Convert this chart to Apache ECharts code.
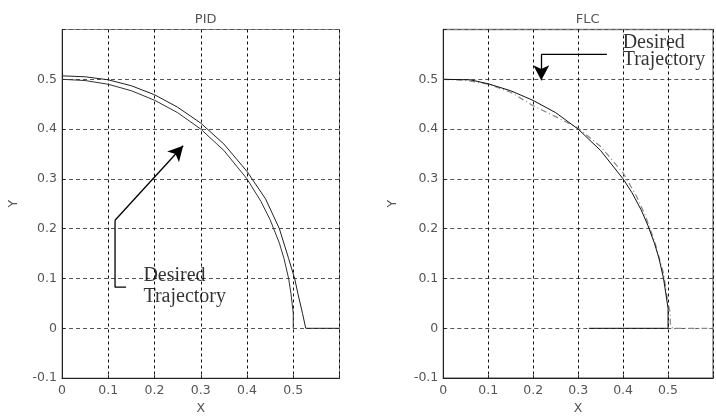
<!DOCTYPE html>
<html>
<head>
<meta charset="utf-8">
<script src="https://cdn.jsdelivr.net/npm/echarts@6/dist/echarts.min.js"></script>
<style>
html,body{margin:0;padding:0;background:#fff;}
#c{width:716px;height:420px;}
</style>
</head>
<body>
<div id="c"></div>
<script>
// ---- data ----
const titles = ['PID', 'FLC'];
const xTickLabels = ['0', '0.1', '0.2', '0.3', '0.4', '0.5', ''];
const yTickLabels = ['-0.1', '0', '0.1', '0.2', '0.3', '0.4', '0.5', ''];

// PID plot
const pidDesired = [[0,0.5],[0.05,0.4975],[0.1,0.49],[0.15,0.477],[0.2,0.458],[0.25,0.433],[0.3,0.4],[0.35,0.357],[0.4,0.3],[0.43,0.255],[0.45,0.218],[0.47,0.171],[0.48,0.14],[0.49,0.1],[0.495,0.07],[0.5,0.03],[0.5,0]];
const pidActual = [[0,0.507],[0.05,0.505],[0.1,0.499],[0.15,0.487],[0.2,0.469],[0.25,0.444],[0.3,0.412],[0.35,0.37],[0.4,0.315],[0.44,0.26],[0.47,0.2],[0.49,0.14],[0.503,0.1],[0.51,0.07],[0.52,0.03],[0.527,0],[0.6,0]];
const pidNotePath = [[0.1385,0.0825],[0.1147,0.0825],[0.1147,0.217]];
const pidNoteArrow = [[0.1147,0.217],[0.262,0.3665]];
const pidNoteText = [0.176,0.1257];

// FLC plot
const flcActual = [[0.324,0],[0.5,0],[0.5,0.04],[0.495,0.07],[0.49,0.1],[0.48,0.14],[0.47,0.17],[0.455,0.207],[0.44,0.238],[0.42,0.272],[0.4,0.3],[0.35,0.357],[0.3,0.4],[0.25,0.433],[0.2,0.4575],[0.15,0.477],[0.1,0.491],[0.06,0.499],[0,0.5]];
const flcDesired = [[0,0.5],[0.05,0.498],[0.1,0.49],[0.15,0.474],[0.2,0.447],[0.25,0.425],[0.3,0.402],[0.35,0.365],[0.4,0.312],[0.43,0.265],[0.45,0.225],[0.47,0.175],[0.49,0.11],[0.5,0.05],[0.505,0.03],[0.505,0.01],[0.51,0],[0.6,0]];
const flcNotePath = [[0.364,0.55],[0.218,0.55]];
const flcNoteArrow = [[0.218,0.55],[0.218,0.498]];
const flcNoteText = [0.399,0.5895];

const noteText = 'Desired\nTrajectory';

// ---- chart ----
const chart = echarts.init(document.getElementById('c'), null, {renderer:'canvas'});
const tickFont = {fontFamily:'DejaVu Sans', fontSize:12.5, color:'#555'};

function xAx(i){
  return {
    gridIndex:i, type:'value', min:0, max:0.6, interval:0.1,
    name:'X', nameLocation:'middle', nameGap:19,
    nameTextStyle:{fontFamily:'DejaVu Sans', fontSize:12.5, color:'#555', verticalAlign:'top'},
    axisLine:{show:true, onZero:false, lineStyle:{color:'#222', width:1}},
    axisTick:{show:true, inside:true, length:3, lineStyle:{color:'#222'}},
    axisLabel:Object.assign({margin:6, formatter:(v)=>xTickLabels[Math.round(v*10)]}, tickFont),
    splitLine:{show:true, lineStyle:{color:'#111', type:[3,3], width:1}}
  };
}
function yAx(i, gap){
  return {
    gridIndex:i, type:'value', min:-0.1, max:0.6, interval:0.1,
    name:'Y', nameLocation:'middle', nameGap:gap,
    nameTextStyle:{fontFamily:'DejaVu Sans', fontSize:12.5, color:'#555'},
    axisLine:{show:true, onZero:false, lineStyle:{color:'#222', width:1}},
    axisTick:{show:true, inside:true, length:3, lineStyle:{color:'#222'}},
    axisLabel:Object.assign({margin:5, formatter:(v)=>yTickLabels[Math.round(v*10)+1]}, tickFont),
    splitLine:{show:true, lineStyle:{color:'#555', type:[4,3], width:1}}
  };
}
function curve(i, data, color, type, width){
  return {type:'line', xAxisIndex:i, yAxisIndex:i, data:data, showSymbol:false, symbol:'none',
    lineStyle:{color:color, width:width, type:type}, silent:true, clip:false, z:3};
}
function note(i, path, arrow, pos, lh){
  return [
    {type:'line', xAxisIndex:i, yAxisIndex:i, data:path, symbol:'none', silent:true,
      lineStyle:{color:'#000', width:1.3}, z:4,
      markLine:{silent:true, symbol:['none','arrow'], symbolSize:[12,15],
        lineStyle:{color:'#000', width:1.3, type:'solid'}, label:{show:false},
        data:[[{coord:arrow[0]},{coord:arrow[1]}]]}},
    {type:'scatter', xAxisIndex:i, yAxisIndex:i, data:[pos], symbolSize:0, silent:true, z:5,
      label:{show:true, position:[0,0], align:'left', verticalAlign:'top',
        formatter:noteText, fontFamily:'Liberation Serif', fontSize:20, lineHeight:lh, color:'#000'}}
  ];
}

const titleStyle = {fontFamily:'DejaVu Sans', fontSize:13, fontWeight:'normal', color:'#555'};
const option = {
  animation:false,
  backgroundColor:'#fff',
  title:[
    {text:titles[0], left:200.7, top:8, textAlign:'center', textStyle:titleStyle},
    {text:titles[1], left:582.7, top:8, textAlign:'center', textStyle:titleStyle}
  ],
  grid:[
    {left:62, top:29.5, width:277.5, height:360, show:true, borderColor:'#888', borderWidth:1, backgroundColor:'transparent'},
    {left:443.3, top:29.5, width:277.7, height:360, show:true, borderColor:'#888', borderWidth:1.5, backgroundColor:'transparent'}
  ],
  xAxis:[xAx(0), xAx(1)],
  yAxis:[yAx(0,42), yAx(1,44)],
  series:[
    curve(0, pidDesired, '#333', 'solid', 1),
    curve(0, pidActual, '#222', 'solid', 1),
    ...note(0, pidNotePath, pidNoteArrow, pidNoteText, 21),
    curve(1, flcDesired, '#888', [6,3,1,3], 1.2),
    curve(1, flcActual, '#111', 'solid', 1),
    ...note(1, flcNotePath, flcNoteArrow, flcNoteText, 17)
  ]
};
chart.setOption(option);
</script>
</body>
</html>
